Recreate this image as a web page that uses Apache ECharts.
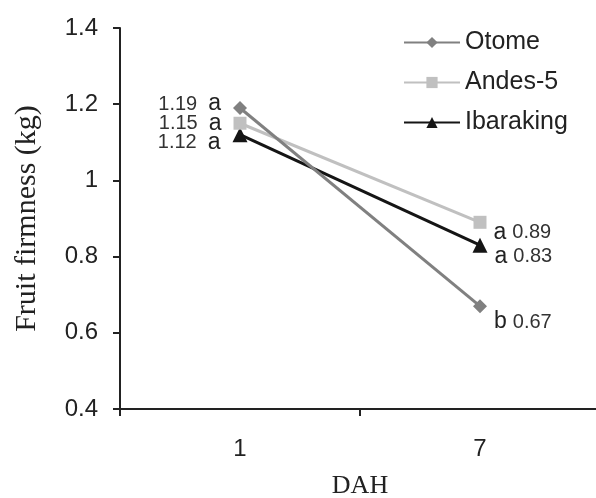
<!DOCTYPE html>
<html><head><meta charset="utf-8">
<script src="https://cdn.jsdelivr.net/npm/echarts@6/dist/echarts.min.js"></script>
<style>html,body{margin:0;padding:0;background:#fff}#c{width:596px;height:498px}</style>
</head><body><div id="c"></div>
<script>
const categories = ['1', '7'];
const seriesNames = ['Otome', 'Andes-5', 'Ibaraking'];
const otome = [1.19, 0.67];
const andes = [1.15, 0.89];
const ibaraking = [1.12, 0.83];
const otomeLetters = ['a', 'b'];
const andesLetters = ['a', 'a'];
const ibarakingLetters = ['a', 'a'];
const yTicks = [0.4, 0.6, 0.8, 1, 1.2, 1.4];

const colors = ['#808080', '#c0c0c0', '#151515'];
const symbols = ['diamond', 'rect', 'triangle'];
const symSizes = [14, 13, 15];
const leftOffsets = [-4, 0, 8];
const rightOffsets = [16, 10, 11];

function mkSeries(i, vals, letters) {
  return {
    name: seriesNames[i], type: 'line', data: vals.map((v, j) => ({
      value: v,
      label: j === 0 ? {
        show: true, position: 'left', distance: 12, offset: [0, leftOffsets[i]],
        formatter: () => '{n|' + v.toFixed(2) + '}{l|' + letters[j] + '}'
      } : {
        show: true, position: 'right', distance: 7, offset: [0, rightOffsets[i]],
        formatter: () => '{r|' + letters[j] + '}{n|' + v.toFixed(2) + '}'
      }
    })),
    symbol: symbols[i], symbolSize: symSizes[i],
    lineStyle: { color: colors[i], width: 3 },
    itemStyle: { color: colors[i] },
    label: {
      rich: {
        n: { fontFamily: 'Liberation Sans, Arial', fontSize: 20, color: '#333' },
        l: { fontFamily: 'Liberation Sans, Arial', fontSize: 23, color: '#222', padding: [0, 0, 0, 11] },
        r: { fontFamily: 'Liberation Sans, Arial', fontSize: 23, color: '#222', padding: [0, 6, 0, 0] }
      }
    },
    z: 3 - i
  };
}

const chart = echarts.init(document.getElementById('c'), null, { renderer: 'canvas' });
chart.setOption({
  animation: false,
  backgroundColor: '#fff',
  grid: { left: 120, top: 28, width: 480, height: 381, containLabel: false, outerBoundsMode: 'none' },
  legend: {
    orient: 'vertical', left: 398, top: 25, itemWidth: 56, itemHeight: 14, itemGap: 15,
    data: seriesNames,
    textStyle: { fontFamily: 'Liberation Sans, Arial', fontSize: 25, color: '#222' }
  },
  xAxis: {
    type: 'category', data: categories, boundaryGap: true,
    name: 'DAH', nameLocation: 'middle', nameGap: 64,
    nameTextStyle: { fontFamily: 'Liberation Serif, Times New Roman', fontSize: 26, color: '#222' },
    axisLine: { lineStyle: { color: '#222', width: 2 } },
    axisTick: { show: true, length: 7, lineStyle: { color: '#222', width: 2 } },
    axisLabel: { margin: 28, fontFamily: 'Liberation Sans, Arial', fontSize: 24, color: '#222' }
  },
  yAxis: {
    type: 'value', min: 0.4, max: 1.4, interval: 0.2,
    name: 'Fruit firmness (kg)', nameLocation: 'middle', nameGap: 78, nameRotate: 90,
    nameTextStyle: { fontFamily: 'Liberation Serif, Times New Roman', fontSize: 30, color: '#222' },
    splitLine: { show: false },
    axisLine: { show: true, lineStyle: { color: '#222', width: 2 } },
    axisTick: { show: true, length: 7, lineStyle: { color: '#222', width: 2 } },
    axisLabel: {
      margin: 22, fontFamily: 'Liberation Sans, Arial', fontSize: 24, color: '#222',
      formatter: v => { const t = yTicks.find(x => Math.abs(x - v) < 1e-9); return String(t !== undefined ? t : v); }
    }
  },
  series: [
    mkSeries(0, otome, otomeLetters),
    mkSeries(1, andes, andesLetters),
    mkSeries(2, ibaraking, ibarakingLetters)
  ]
});
</script></body></html>
